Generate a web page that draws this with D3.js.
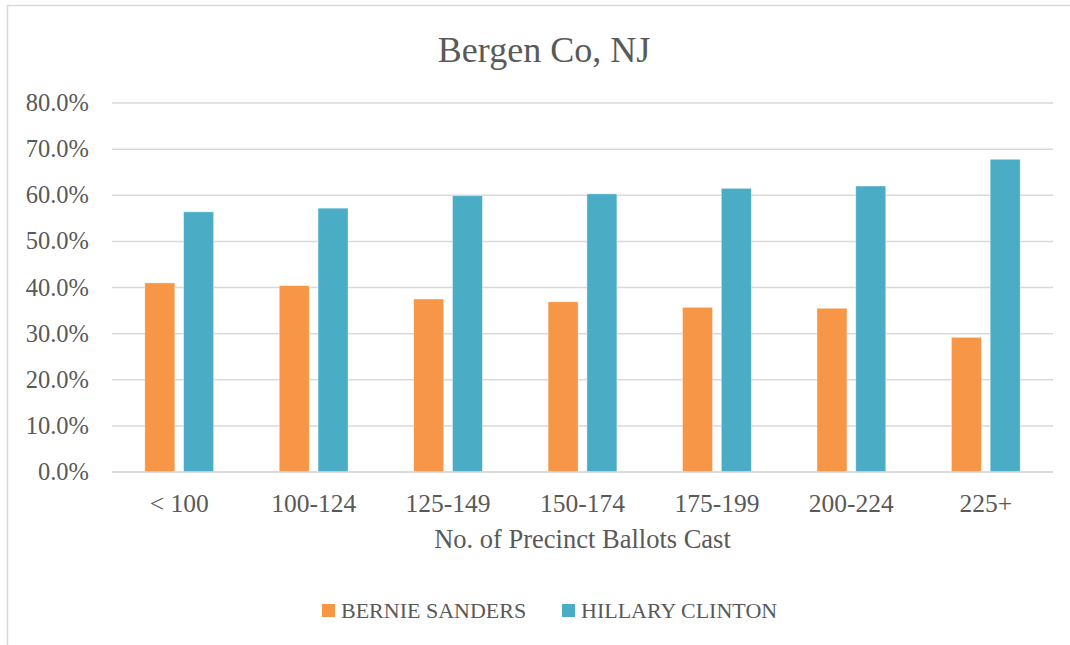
<!DOCTYPE html>
<html>
<head>
<meta charset="utf-8">
<script src="https://cdn.jsdelivr.net/npm/d3@7"></script>
<style>
  html, body { margin: 0; padding: 0; background: #fff; }
  svg { display: block; }
  text { font-family: "Liberation Serif", "DejaVu Serif", serif; fill: #595959; }
</style>
</head>
<body>
<svg id="chart" width="1070" height="645"></svg>
<script>
// Precinct size buckets and vote shares (%)
const categories = ["< 100", "100-124", "125-149", "150-174", "175-199", "200-224", "225+"];
const seriesNames = ["BERNIE SANDERS", "HILLARY CLINTON"];
const sandersValues = [41.0, 40.4, 37.5, 36.9, 35.7, 35.5, 29.2];
const clintonValues = [56.4, 57.2, 59.9, 60.3, 61.5, 62.0, 67.8];
const yTicks = [0, 10, 20, 30, 40, 50, 60, 70, 80];
const seriesColors = ["#F79646", "#4BACC6"];

const svg = d3.select("#chart");

// Outer chart frame (runs off the right and bottom edges)
svg.append("rect")
  .attr("x", 7.5).attr("y", 5.5)
  .attr("width", 1200).attr("height", 800)
  .attr("fill", "#fff")
  .attr("stroke", "#D9D9D9").attr("stroke-width", 1.5);

const plot = { left: 112, right: 1053, top: 103, bottom: 472 };

const x = d3.scaleBand().domain(categories).range([plot.left, plot.right]).padding(0);
const xSub = d3.scaleBand().domain(seriesNames).range([0, x.bandwidth()])
  .paddingInner(0.227).paddingOuter(0.846);
const y = d3.scaleLinear().domain([0, 80]).range([plot.bottom, plot.top]);

// Horizontal gridlines
svg.append("g").selectAll("line").data(yTicks).join("line")
  .attr("x1", plot.left).attr("x2", plot.right)
  .attr("y1", d => y(d)).attr("y2", d => y(d))
  .attr("stroke", "#D9D9D9").attr("stroke-width", 1.5);

// Y tick labels
svg.append("g").selectAll("text").data(yTicks).join("text")
  .attr("x", 89).attr("y", d => y(d) + 8)
  .attr("text-anchor", "end")
  .style("font-size", "24.5px")
  .text(d => d.toFixed(1) + "%");

// Bars
const rows = categories.map((c, i) => ({ cat: c, vals: [sandersValues[i], clintonValues[i]] }));
const groups = svg.append("g").selectAll("g").data(rows).join("g")
  .attr("transform", d => `translate(${x(d.cat)},0)`);
groups.selectAll("rect")
  .data(d => d.vals.map((v, j) => ({ name: seriesNames[j], v, j })))
  .join("rect")
  .attr("x", d => xSub(d.name))
  .attr("width", xSub.bandwidth())
  .attr("y", d => y(d.v))
  .attr("height", d => y(0) - y(d.v))
  .attr("fill", d => seriesColors[d.j])
  .attr("stroke", "#fff").attr("stroke-opacity", 0.5).attr("stroke-width", 0.75);

// X axis line
svg.append("line")
  .attr("x1", plot.left).attr("x2", plot.right)
  .attr("y1", y(0)).attr("y2", y(0))
  .attr("stroke", "#D9D9D9").attr("stroke-width", 1.5);

// X tick labels
svg.append("g").selectAll("text").data(categories).join("text")
  .attr("x", d => x(d) + x.bandwidth() / 2)
  .attr("y", 512)
  .attr("text-anchor", "middle")
  .style("font-size", "25.5px")
  .text(d => d);

// Axis title
svg.append("text")
  .attr("x", (plot.left + plot.right) / 2).attr("y", 548)
  .attr("text-anchor", "middle")
  .style("font-size", "26.5px")
  .text("No. of Precinct Ballots Cast");

// Chart title
svg.append("text")
  .attr("x", 544).attr("y", 62)
  .attr("text-anchor", "middle")
  .style("font-size", "36px")
  .text("Bergen Co, NJ");

// Legend
const legendItems = [
  { name: seriesNames[0], color: seriesColors[0], x: 322 },
  { name: seriesNames[1], color: seriesColors[1], x: 562 }
];
const legend = svg.append("g").selectAll("g").data(legendItems).join("g")
  .attr("transform", d => `translate(${d.x},604)`);
legend.append("rect").attr("width", 13).attr("height", 13).attr("fill", d => d.color);
legend.append("text").attr("x", 19).attr("y", 13.5)
  .style("font-size", "22px")
  .text(d => d.name);
</script>
</body>
</html>
